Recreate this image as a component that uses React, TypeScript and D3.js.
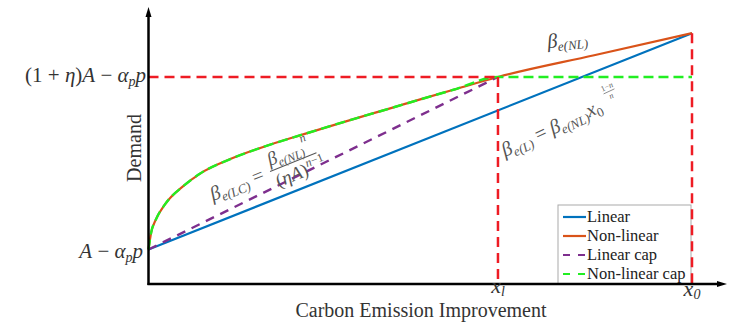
import React from 'react';
import * as d3 from 'd3';

// carbon emission improvement (x0 = 100) and demand
const improvement = [0, 0.5, 1.3, 3, 6.5, 9.5, 15.5, 22, 28.3, 37.7, 44, 50, 56.1, 64.3, 82, 100];
const nonLinearDemand = [2, 2.5, 2.85, 3.3, 3.85, 4.2, 4.65, 5.02, 5.33, 5.78, 6.07, 6.35, 6.63, 7, 7.63, 8.27];
const linearX = [0, 100];
const linearDemand = [2, 8.27];
const linearCapX = [0, 64.3];
const linearCapDemand = [2, 7];
const nonLinearCapX = [0, 0.5, 1.3, 3, 6.5, 9.5, 15.5, 22, 28.3, 37.7, 44, 50, 56.1, 64.3, 100];
const nonLinearCapDemand = [2, 2.5, 2.85, 3.3, 3.85, 4.2, 4.65, 5.02, 5.33, 5.78, 6.07, 6.35, 6.63, 7, 7];

const xl = 64.3;
const x0 = 100;
const capDemand = 7;
const maxDemand = 8.27;
const baseDemand = 2;

const legendLabels = ['Linear', 'Non-linear', 'Linear cap', 'Non-linear cap'];
const legendColors = ['#0072bd', '#d95319', '#7e2f8e', '#22ee22'];
const legendDashed = [false, false, true, true];

const W = 745;
const H = 327;
const serif = '"Liberation Serif", "DejaVu Serif", serif';
const RED = '#ee1c24';

const x = d3.scaleLinear().domain([0, 100]).range([148.5, 692]);
const y = d3.scaleLinear().domain([1, 7]).range([284, 77]);

const line = (xs: number[], ys: number[], curve = d3.curveLinear) =>
  d3.line<number>().x((_, i) => x(xs[i])).y((d) => y(d)).curve(curve)(ys) || '';

export default function App() {
  const ox = x(0);
  const oy = y(1);
  const legX = 558;
  const legY = 205;
  const legRow = 19;

  return (
    <svg width={W} height={H} style={{ position: 'absolute', left: 0, top: 0, background: '#fff' }} fontFamily={serif}>
      {/* series */}
      <path d={line(linearX, linearDemand)} fill="none" stroke="#0072bd" strokeWidth={2.2} />
      <path d={line(improvement, nonLinearDemand, d3.curveMonotoneX)} fill="none" stroke="#d95319" strokeWidth={2.2} />
      <path d={line(linearCapX, linearCapDemand)} fill="none" stroke="#7e2f8e" strokeWidth={2.4} strokeDasharray="9,7" />
      <path d={line(nonLinearCapX, nonLinearCapDemand, d3.curveMonotoneX)} fill="none" stroke="#22ee22" strokeWidth={2.4} strokeDasharray="10,5" />

      {/* legend */}
      <rect x={legX} y={legY} width={133} height={oy - legY} fill="#fff" stroke="#aaa" strokeWidth={1} />
      {legendLabels.map((lab, i) => {
        const cy = legY + 12 + i * legRow;
        return (
          <g key={lab}>
            <line x1={legX + 5} x2={legX + 28} y1={cy} y2={cy} stroke={legendColors[i]} strokeWidth={2.2}
              strokeDasharray={legendDashed[i] ? '7,8' : undefined} />
            <text x={legX + 29} y={cy + 5} fontSize={16.5} fill="#222">{lab}</text>
          </g>
        );
      })}

      {/* guides */}
      <line x1={ox} x2={x(xl)} y1={y(capDemand)} y2={y(capDemand)} stroke={RED} strokeWidth={2.5} strokeDasharray="10,6" />
      <line x1={x(xl)} x2={x(xl)} y1={y(capDemand)} y2={oy} stroke={RED} strokeWidth={2.5} strokeDasharray="10,6" />
      <line x1={x(x0)} x2={x(x0)} y1={y(maxDemand)} y2={oy} stroke={RED} strokeWidth={2.5} strokeDasharray="10,6" />

      {/* axes with arrows */}
      <line x1={ox} x2={ox} y1={oy + 1} y2={14} stroke="#000" strokeWidth={2.5} />
      <path d={`M${ox},7 L${ox - 3},17 L${ox + 3},17 Z`} fill="#000" />
      <line x1={ox - 1} x2={720} y1={oy} y2={oy} stroke="#000" strokeWidth={2.5} />
      <path d={`M727,${oy} L717,${oy - 3} L717,${oy + 3} Z`} fill="#000" />

      {/* y labels */}
      <text x={146} y={y(capDemand) + 5} textAnchor="end" fontSize={21} fill="#333">
        (1 + <tspan fontStyle="italic">η</tspan>)<tspan fontStyle="italic">A</tspan> − <tspan fontStyle="italic">α</tspan>
        <tspan fontStyle="italic" fontSize={14} dy={4}>p</tspan>
        <tspan fontStyle="italic" dy={-4}>p</tspan>
      </text>
      <text x={143} y={y(baseDemand) + 8} textAnchor="end" fontSize={21} fill="#333">
        <tspan fontStyle="italic">A</tspan> − <tspan fontStyle="italic">α</tspan>
        <tspan fontStyle="italic" fontSize={14} dy={4}>p</tspan>
        <tspan fontStyle="italic" dy={-4}>p</tspan>
      </text>

      {/* x labels */}
      <text x={x(xl)} y={293} textAnchor="middle" fontSize={22} fill="#333" fontStyle="italic">
        x<tspan fontSize={14} dy={3}>l</tspan>
      </text>
      <text x={x(x0)} y={296} textAnchor="middle" fontSize={22} fill="#333" fontStyle="italic">
        x<tspan fontSize={14} dy={3}>0</tspan>
      </text>

      {/* axis titles */}
      <text transform={`translate(141,148) rotate(-90)`} textAnchor="middle" fontSize={20} fill="#333">Demand</text>
      <text x={421} y={317} textAnchor="middle" fontSize={20} fill="#333">Carbon Emission Improvement</text>

      {/* annotations */}
      <text transform="translate(548,48) rotate(-6)" fontSize={20} fill="#444" fontStyle="italic">
        β<tspan fontSize={13} dy={4}>e(NL)</tspan>
      </text>

      <g transform="translate(213,201) rotate(-22)" fill="#555" fontStyle="italic">
        <text x={0} y={0} fontSize={20}>
          β<tspan fontSize={13} dy={4}>e(LC)</tspan><tspan fontSize={20} dy={-4} fontStyle="normal"> =</tspan>
        </text>
        <text x={66} y={-11} fontSize={19}>
          β<tspan fontSize={12} dy={4}>e(NL)</tspan><tspan fontSize={12} dy={-14}>n</tspan>
        </text>
        <line x1={64} x2={114} y1={-6} y2={-6} stroke="#555" strokeWidth={1} />
        <text x={66} y={12} fontSize={19}>
          <tspan fontStyle="normal">(</tspan>ηA<tspan fontStyle="normal">)</tspan>
          <tspan fontSize={12} dy={-8}>n</tspan><tspan fontSize={12} fontStyle="normal">−1</tspan>
        </text>
      </g>

      <g transform="translate(505,157) rotate(-25)" fill="#555" fontStyle="italic">
        <text x={0} y={0} fontSize={20}>
          β<tspan fontSize={13} dy={4}>e(L)</tspan>
          <tspan fontSize={20} dy={-4} fontStyle="normal"> = </tspan>β<tspan fontSize={13} dy={4}>e(NL)</tspan>
          <tspan fontSize={20} dy={-4}>x</tspan><tspan fontSize={13} dy={4} fontStyle="normal">0</tspan>
        </text>
        <text x={122} y={-18} fontSize={8} textAnchor="middle" fontStyle="normal">1−<tspan fontStyle="italic">n</tspan></text>
        <line x1={116} x2={128} y1={-15.5} y2={-15.5} stroke="#555" strokeWidth={0.6} />
        <text x={122} y={-8} fontSize={8} textAnchor="middle">n</text>
      </g>
    </svg>
  );
}
